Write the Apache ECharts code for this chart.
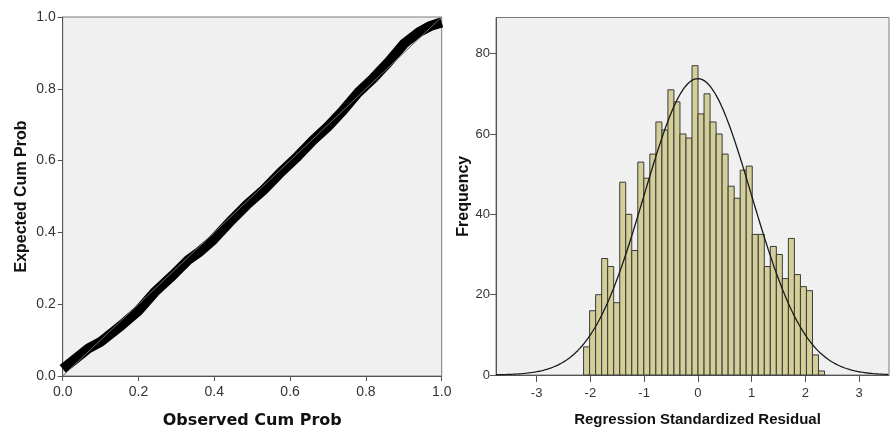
<!DOCTYPE html>
<html>
<head>
<meta charset="utf-8">
<script src="https://cdn.jsdelivr.net/npm/echarts@6/dist/echarts.min.js"></script>
<style>
html,body{margin:0;padding:0;background:#fff;}
#c{width:891px;height:430px;}
</style>
</head>
<body>
<div id="c"></div>
<script>
// ---- P-P plot data (observed vs expected cumulative probability) ----
const ppObserved = [0.000, 0.030, 0.068, 0.100, 0.130, 0.156, 0.200, 0.244, 0.290, 0.331, 0.360, 0.397, 0.440, 0.485, 0.530, 0.573, 0.620, 0.661, 0.700, 0.740, 0.780, 0.820, 0.860, 0.900, 0.940, 0.970, 1.000];
const ppExpected = [0.020, 0.045, 0.077, 0.095, 0.120, 0.142, 0.182, 0.235, 0.280, 0.323, 0.345, 0.379, 0.428, 0.476, 0.518, 0.565, 0.612, 0.657, 0.695, 0.740, 0.790, 0.830, 0.875, 0.925, 0.958, 0.975, 0.985];
const ppTicks = [0, 0.2, 0.4, 0.6, 0.8, 1.0];

// ---- Histogram of regression standardized residuals ----
const binStart = -2.126;
const binWidth = 0.1121;
const binCounts = [7, 16, 20, 29, 27, 18, 48, 40, 31, 53, 49, 55, 63, 61, 71, 68, 60, 59, 77, 65,
                   70, 63, 60, 55, 47, 44, 51, 52, 35, 35, 27, 32, 30, 24, 34, 25, 22, 21, 5, 1];
const curveMean = 0;
const curveSd = 1;
const histXTicks = [-3, -2, -1, 0, 1, 2, 3];
const histYTicks = [0, 20, 40, 60, 80];
const histXMin = -3.756, histXMax = 3.558, histYMax = 89;

const ppData = ppObserved.map((v, i) => [v, ppExpected[i]]);
const binData = binCounts.map((c, i) => [binStart + i * binWidth, binStart + (i + 1) * binWidth, c]);
const totalN = binCounts.reduce((a, b) => a + b, 0);
const curveData = [];
for (let x = histXMin; x <= histXMax + 1e-9; x += 0.02) {
  const z = (x - curveMean) / curveSd;
  curveData.push([x, totalN * binWidth * Math.exp(-0.5 * z * z) / (curveSd * Math.sqrt(2 * Math.PI))]);
}

const labelFont = 'Liberation Sans';

const chart = echarts.init(document.getElementById('c'), null, {renderer: 'canvas'});
chart.setOption({
  animation: false,
  backgroundColor: '#ffffff',
  grid: [
    {left: 62.7, top: 17, right: 449.3, bottom: 54, outerBoundsMode: 'none', containLabel: false,
     show: true, backgroundColor: '#f0f0f0', borderColor: '#7a7a7a', borderWidth: 1},
    {left: 496, top: 17.5, right: 2, bottom: 55, outerBoundsMode: 'none', containLabel: false,
     show: true, backgroundColor: '#f0f0f0', borderColor: '#7a7a7a', borderWidth: 1}
  ],
  xAxis: [
    {
      type: 'value', gridIndex: 0, min: 0, max: 1, interval: 0.2,
      name: 'Observed Cum Prob', nameLocation: 'middle', nameGap: 37,
      nameTextStyle: {fontFamily: 'DejaVu Sans', fontWeight: 'bold', fontSize: 16, color: '#111'},
      axisLine: {show: true, lineStyle: {color: '#555', width: 1}},
      axisTick: {show: true, length: 5, lineStyle: {color: '#555'}},
      axisLabel: {margin: 9, fontFamily: labelFont, fontSize: 14, color: '#333', formatter: v => v.toFixed(1)},
      splitLine: {show: false}
    },
    {
      type: 'value', gridIndex: 1, min: histXMin, max: histXMax,
      name: 'Regression Standardized Residual', nameLocation: 'middle', nameGap: 37,
      nameTextStyle: {fontFamily: labelFont, fontWeight: 'bold', fontSize: 15, color: '#111', padding: [0, 0, 0, 10]},
      axisLine: {show: true, onZero: false, lineStyle: {color: '#555', width: 1}},
      axisTick: {show: true, length: 7, customValues: histXTicks, lineStyle: {color: '#555'}},
      axisLabel: {margin: 12, fontFamily: labelFont, fontSize: 13, color: '#333', customValues: histXTicks, formatter: v => String(v)},
      splitLine: {show: false}
    }
  ],
  yAxis: [
    {
      type: 'value', gridIndex: 0, min: 0, max: 1, interval: 0.2,
      name: 'Expected Cum Prob', nameLocation: 'middle', nameGap: 33,
      nameTextStyle: {fontFamily: labelFont, fontWeight: 'bold', fontSize: 16, color: '#111'},
      axisLine: {show: true, lineStyle: {color: '#555', width: 1}},
      axisTick: {show: true, length: 5, lineStyle: {color: '#555'}},
      axisLabel: {margin: 7, fontFamily: labelFont, fontSize: 14, color: '#333', formatter: v => v.toFixed(1)},
      splitLine: {show: false}
    },
    {
      type: 'value', gridIndex: 1, min: 0, max: histYMax,
      name: 'Frequency', nameLocation: 'middle', nameGap: 18,
      nameTextStyle: {fontFamily: labelFont, fontWeight: 'bold', fontSize: 16, color: '#111'},
      axisLine: {show: true, onZero: false, lineStyle: {color: '#555', width: 1}},
      axisTick: {show: true, length: 6, customValues: histYTicks, lineStyle: {color: '#555'}},
      axisLabel: {margin: 6, fontFamily: labelFont, fontSize: 13, color: '#333', customValues: histYTicks, formatter: v => String(v)},
      splitLine: {show: false}
    }
  ],
  series: [
    {
      type: 'line', xAxisIndex: 0, yAxisIndex: 0, data: ppData,
      symbol: 'none', clip: true,
      lineStyle: {color: '#000', width: 10, cap: 'butt', join: 'round'},
      z: 2
    },
    {
      type: 'line', xAxisIndex: 0, yAxisIndex: 0, data: [[0, 0], [1, 1]],
      symbol: 'none', lineStyle: {color: '#6a6a6a', width: 1}, z: 3
    },
    {
      type: 'custom', xAxisIndex: 1, yAxisIndex: 1, data: binData,
      encode: {x: [0, 1], y: 2},
      renderItem: function (params, api) {
        const p0 = api.coord([api.value(0), api.value(2)]);
        const p1 = api.coord([api.value(1), 0]);
        return {
          type: 'rect',
          shape: {x: p0[0], y: p0[1], width: p1[0] - p0[0], height: p1[1] - p0[1]},
          style: {fill: '#d4cf98', stroke: '#3a3a3a', lineWidth: 1}
        };
      },
      z: 2
    },
    {
      type: 'line', xAxisIndex: 1, yAxisIndex: 1, data: curveData,
      symbol: 'none', smooth: false,
      lineStyle: {color: '#1a1a1a', width: 1.3}, z: 3
    }
  ]
});
</script>
</body>
</html>
